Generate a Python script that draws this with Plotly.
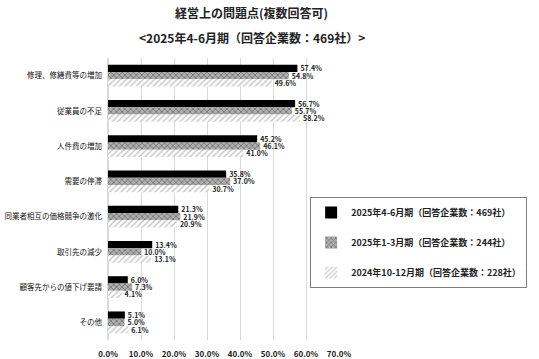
import plotly.graph_objects as go

categories = ["修理、修繕費等の増加", "従業員の不足", "人件費の増加", "需要の停滞",
              "同業者相互の価格競争の激化", "取引先の減少", "顧客先からの値下げ要請", "その他"]
series_names = ["2025年4-6月期（回答企業数：469社）",
                "2025年1-3月期（回答企業数：244社）",
                "2024年10-12月期（回答企業数：228社）"]
s_2025_q2 = [57.4, 56.7, 45.2, 35.8, 21.3, 13.4, 6.0, 5.1]
s_2025_q1 = [54.8, 55.7, 46.1, 37.0, 21.9, 10.0, 7.3, 5.0]
s_2024_q4 = [49.6, 58.2, 41.0, 30.7, 20.9, 13.1, 4.1, 6.1]
x_ticks = [0, 10, 20, 30, 40, 50, 60, 70]

FONT = "Noto Sans CJK JP"
styles = [
    dict(color="#000000", pattern=dict(shape="")),
    dict(color="#9a9a9a", pattern=dict(shape="x", fgcolor="#3a3a3a", bgcolor="#b0b0b0", size=4, solidity=0.4)),
    dict(color="#ffffff", pattern=dict(shape="/", fgcolor="#8a8a8a", bgcolor="#ffffff", size=4, solidity=0.35)),
]

fig = go.Figure()
for i, (name, vals) in enumerate(zip(series_names, [s_2025_q2, s_2025_q1, s_2024_q4])):
    st = styles[i]
    fig.add_trace(go.Bar(
        y=categories, x=vals, orientation="h", name=name,
        marker=dict(color=st["color"], pattern=st["pattern"], line=dict(width=0)),
        text=[f"{v:.1f}%" for v in vals], textposition="outside", constraintext="none",
        textfont=dict(family=FONT, size=7, color="#222", weight="bold"),
        cliponaxis=False, legendgroup=f"g{i}",
    ))

fig.update_layout(
    width=539, height=359, plot_bgcolor="white", paper_bgcolor="white",
    margin=dict(l=108, r=190, t=58, b=19),
    barmode="group", bargap=0.38, bargroupgap=0,
    font=dict(family=FONT, size=8, color="#222"),
    xaxis=dict(range=[0, 70], tickvals=x_ticks, ticktext=[f"{v:.1f}%" for v in x_ticks],
               showgrid=True, gridcolor="#d9d9d9", gridwidth=1, zeroline=True, zerolinecolor="#d9d9d9",
               tickfont=dict(family=FONT, size=8, weight="bold"), ticklabelstandoff=8,
               automargin=False),
    yaxis=dict(autorange="reversed", showgrid=False, ticks="",
               tickfont=dict(family=FONT, size=7.5, color="#111"), ticklabelstandoff=5, automargin=False),
    legend=dict(x=0.875, y=0.507, xanchor="left", yanchor="top",
                bordercolor="#7f7f7f", borderwidth=1, bgcolor="white",
                font=dict(family=FONT, size=9, weight="bold"), tracegroupgap=11,
                itemwidth=30),
    showlegend=True,
    annotations=[
        dict(text="経営上の問題点(複数回答可)", xref="paper", yref="paper", x=0.622, y=1.163,
             yanchor="middle", showarrow=False,
             font=dict(family=FONT, size=12, weight="bold", color="#222")),
        dict(text="<2025年4-6月期（回答企業数：469社）>", xref="paper", yref="paper", x=0.622, y=1.071,
             yanchor="middle", showarrow=False,
             font=dict(family=FONT, size=12, weight="bold", color="#222")),
    ],
)
fig.write_html("out.html")
